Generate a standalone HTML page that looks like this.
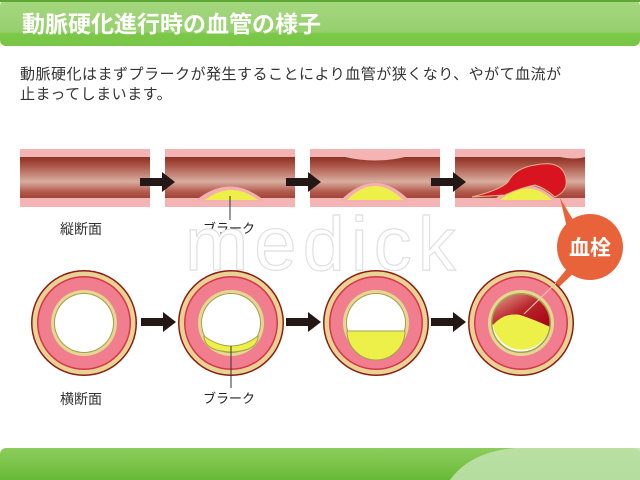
<!DOCTYPE html>
<html><head><meta charset="utf-8"><style>
html,body{margin:0;padding:0;background:#fff;width:640px;height:480px;overflow:hidden}
svg{display:block}
text{font-family:"Liberation Sans","Noto Sans CJK JP",sans-serif}
</style></head><body>
<svg width="640" height="480" viewBox="0 0 640 480" xmlns="http://www.w3.org/2000/svg">
<defs>
<linearGradient id="hd" x1="0" y1="0" x2="0" y2="1">
<stop offset="0" stop-color="#a6d780"/><stop offset="0.7" stop-color="#96d06c"/><stop offset="0.72" stop-color="#7cc84a"/><stop offset="1" stop-color="#78c645"/></linearGradient>
<linearGradient id="ft" x1="0" y1="0" x2="0" y2="1">
<stop offset="0" stop-color="#8ccd5c"/><stop offset="1" stop-color="#5fb52e"/></linearGradient>
<linearGradient id="ves" x1="0" y1="0" x2="0" y2="1">
<stop offset="0" stop-color="#8a3327"/><stop offset="0.15" stop-color="#a4483b"/><stop offset="0.6" stop-color="#d8ad9e"/><stop offset="0.85" stop-color="#b2594b"/><stop offset="1" stop-color="#a0443a"/></linearGradient>
<linearGradient id="clot" x1="0" y1="0" x2="1" y2="1">
<stop offset="0" stop-color="#e9a59a"/><stop offset="0.5" stop-color="#b8242a"/><stop offset="1" stop-color="#a80010"/></linearGradient>
<g id="arrow"><rect x="0" y="-4" width="24" height="8" fill="#231815"/><polygon points="22,-10 35,0 22,10" fill="#231815"/></g>
<g id="ring">
<circle r="53" fill="#8b1e12"/><circle r="51.5" fill="#e9d394"/><circle r="47" fill="#d6364a"/><circle r="45.5" fill="#f17e8e"/>
<circle r="33" fill="#e5d792"/><circle r="30" fill="#a3a04e"/><circle r="29" fill="#fff"/></g>
</defs>
<rect x="0" y="0" width="640" height="46" rx="6" fill="url(#hd)"/>
<rect x="0" y="0" width="640" height="2" fill="#5ea834"/>
<text x="22" y="32" font-size="23" font-weight="bold" fill="#fff">動脈硬化進行時の血管の様子</text>
<text x="20" y="79" font-size="15" letter-spacing="0.5" fill="#333">動脈硬化はまずプラークが発生することにより血管が狭くなり、やがて血流が</text>
<text x="20" y="99" font-size="15" letter-spacing="0.5" fill="#333">止まってしまいます。</text>

<!-- vessels -->
<g>
<rect x="20" y="149" width="130" height="58" fill="#f4b4b3"/><rect x="20" y="157" width="130" height="41" fill="url(#ves)"/>
<rect x="165" y="149" width="130" height="58" fill="#f4b4b3"/><rect x="165" y="157" width="130" height="41" fill="url(#ves)"/>
<path d="M195,201 Q230,172 265,201 Z" fill="#f4b0ae"/><path d="M205,200 Q231,180 258,200 Z" fill="#eef04a"/>
<rect x="310" y="149" width="130" height="58" fill="#f4b4b3"/><path d="M310,157 L345,157 Q375,164 405,157 L440,157 L440,198 L310,198 Z" fill="url(#ves)"/>
<path d="M340,201 Q375,165 410,201 Z" fill="#f4b0ae"/><path d="M347,200 Q375,172 403,200 Z" fill="#eef04a"/>
<rect x="455" y="149" width="130" height="58" fill="#f4b4b3"/><path d="M455,157 L560,157 Q575,160 585,157 L585,198 L455,198 Z" fill="url(#ves)"/>
<path d="M493,201 Q525,170 558,201 Z" fill="#f4b0ae"/><path d="M500,200 Q528,177 552,200 Z" fill="#eef04a"/>
<path d="M472,197 Q500,190 508,182 Q515,168 535,165 Q560,160 565,175 Q570,190 555,197 Q545,188 535,185 Q520,188 505,195 Z" fill="#d81420" stroke="#e8b48a" stroke-width="1"/>
<use href="#arrow" x="140" y="182"/><use href="#arrow" x="286" y="182"/><use href="#arrow" x="431" y="182"/>
</g>
<text x="60" y="234" font-size="14" fill="#333">縦断面</text>
<line x1="230" y1="196" x2="230" y2="220" stroke="#333" stroke-width="1"/>
<text x="203" y="233" font-size="13" fill="#222">ブラーク</text>

<text x="185" y="270" font-size="76" fill="#fff" stroke="#e0e0e0" stroke-width="1.2" letter-spacing="6">medick</text>

<!-- badge -->
<path d="M568,232 L560,198 L578,228 Z" fill="#e9633a"/>
<path d="M570,265 L528,316 L577,270 Z" fill="#e9633a"/>
<circle cx="590" cy="247" r="33" fill="#e9633a"/>
<text x="590" y="255" font-size="21" font-weight="bold" fill="#fff" text-anchor="middle">血栓</text>

<!-- cross sections -->
<use href="#ring" x="84" y="323"/>
<use href="#ring" x="231" y="323"/>
<path d="M204,336 Q231,356 258,336 Q258,351 231,352 Q204,351 204,336 Z" fill="#eef04a" stroke="#a3a04e"/>
<use href="#ring" x="376" y="323"/>
<path d="M347,331 L405,331 A29,29 0 0 1 347,331 Z" fill="#eef04a" stroke="#a3a04e"/>
<use href="#ring" x="521" y="323"/>
<path d="M492,323 A29,29 0 0 1 550,323 L550,327 Q535,320 520,315 Q505,312 493,325 Z" fill="url(#clot)"/>
<path d="M493,325 Q505,312 520,315 Q535,320 550,327 A29,29 0 0 1 493,325 Z" fill="#eef04a"/>
<circle cx="521" cy="323" r="29" fill="none" stroke="#a3a04e" stroke-width="1"/>
<line x1="524" y1="314" x2="556" y2="283" stroke="#f6c0b0" stroke-width="1.2"/>
<use href="#arrow" x="141" y="322"/><use href="#arrow" x="286" y="322"/><use href="#arrow" x="431" y="322"/>
<text x="60" y="404" font-size="14" fill="#333">横断面</text>
<line x1="231" y1="346" x2="231" y2="388" stroke="#333" stroke-width="1"/>
<text x="203" y="403" font-size="13" fill="#222">ブラーク</text>

<!-- footer -->
<rect x="0" y="448" width="640" height="40" rx="6" fill="url(#ft)"/>
<path d="M450,480 Q470,452 515,448 L640,448 L640,480 Z" fill="#c2e3b0" opacity="0.85"/>
</svg>
</body></html>
